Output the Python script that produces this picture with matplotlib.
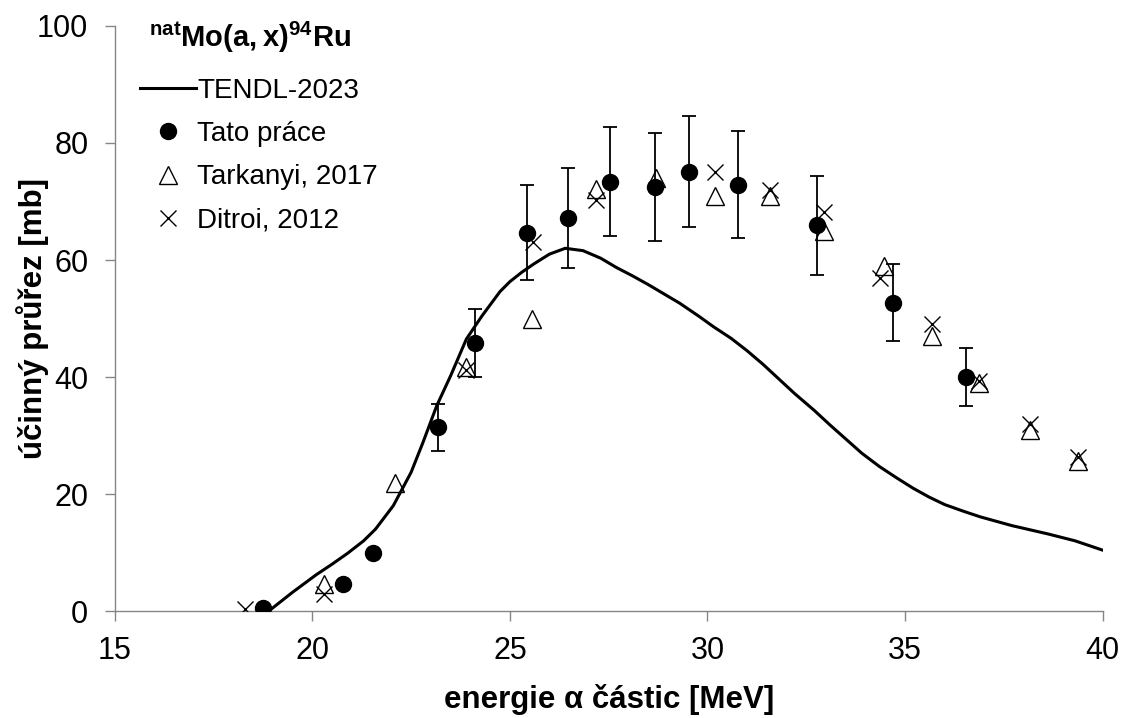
import numpy as np
import matplotlib
matplotlib.use("Agg")
import matplotlib.pyplot as plt
from matplotlib.lines import Line2D

plt.rcParams['font.family'] = ['Liberation Sans', 'DejaVu Sans']
plt.rcParams['mathtext.fontset'] = 'custom'
plt.rcParams['mathtext.rm'] = 'Liberation Sans'
plt.rcParams['mathtext.bf'] = 'Liberation Sans:bold'

# TENDL-2023 curve
tendl_e = [18.9, 19.5, 20.1, 20.5, 20.9, 21.3, 21.6, 22.05, 22.5, 22.8, 23.15,
           23.5, 23.9, 24.3, 24.75, 25.0, 25.3, 25.6, 26.0, 26.4, 26.85, 27.3,
           27.7, 28.1, 28.5, 29.3, 29.8, 30.15, 30.6, 31.0, 31.4, 31.8, 32.2,
           32.7, 33.1, 33.5, 33.9, 34.35, 34.8, 35.2, 35.6, 36.0, 36.5, 36.9,
           37.7, 38.6, 39.3, 40.0]
tendl_xs = [0.0, 3.2, 6.2, 8.0, 9.9, 12.0, 14.0, 18.0, 23.7, 28.8, 35.1,
            40.2, 46.5, 50.5, 54.6, 56.3, 57.9, 59.3, 61.0, 62.0, 61.6, 60.3,
            58.7, 57.3, 55.8, 52.6, 50.3, 48.6, 46.6, 44.5, 42.2, 39.7, 37.2,
            34.3, 31.8, 29.4, 27.0, 24.7, 22.7, 21.0, 19.5, 18.2, 17.0, 16.1,
            14.6, 13.2, 12.0, 10.4]

# this work
tp_e = [18.76, 20.78, 21.54, 23.19, 24.11, 25.43, 26.46, 27.54, 28.68, 29.53,
        30.78, 32.78, 34.69, 36.55]
tp_xs = [0.46, 4.7, 10.0, 31.4, 45.8, 64.7, 67.2, 73.4, 72.5, 75.1, 72.9,
         65.9, 52.7, 40.0]
tp_err = [0.0, 0.0, 0.0, 4.0, 5.8, 8.1, 8.5, 9.3, 9.2, 9.5, 9.2, 8.4, 6.6, 5.0]

# Tarkanyi, 2017
tar_e = [20.29, 22.09, 23.89, 25.57, 27.19, 28.69, 30.18, 31.57, 32.96, 34.46,
         35.67, 36.88, 38.17, 39.37]
tar_xs = [4.6, 21.9, 41.7, 50.0, 72.1, 74.0, 71.0, 71.0, 65.0, 58.9, 47.0,
          38.9, 30.9, 25.7]

# Ditroi, 2012
dit_e = [18.30, 20.29, 23.89, 25.59, 27.19, 30.18, 31.57, 32.96, 34.37, 35.67,
         36.88, 38.17, 39.37]
dit_xs = [0.34, 2.9, 41.2, 63.1, 70.2, 75.1, 71.9, 68.2, 57.0, 49.1, 39.4,
          32.0, 26.3]

fig = plt.figure(figsize=(11.22, 7.18), dpi=100)
ax = fig.add_axes([0.1022, 0.149, 0.9828 - 0.1022, 0.9638 - 0.149])

ax.plot(tendl_e, tendl_xs, color='black', linewidth=2.2, zorder=2)
ax.plot(tar_e, tar_xs, linestyle='none', marker='^', markersize=13,
        markerfacecolor='none', markeredgecolor='black', markeredgewidth=1.0,
        zorder=3)
ax.plot(dit_e, dit_xs, linestyle='none', marker='x', markersize=11,
        color='black', markeredgewidth=1.0, zorder=3)
ax.errorbar(tp_e, tp_xs, yerr=tp_err, fmt='none', ecolor='black',
            elinewidth=1.3, capsize=4.7, capthick=1.3, zorder=4)
ax.plot(tp_e, tp_xs, linestyle='none', marker='o', markersize=11.5,
        color='black', zorder=5)

ax.set_xlim(15, 40)
ax.set_ylim(0, 100)
ax.set_xticks([15, 20, 25, 30, 35, 40])
ax.set_yticks([0, 20, 40, 60, 80, 100])
for s in ['top', 'right']:
    ax.spines[s].set_visible(False)
for s in ['left', 'bottom']:
    ax.spines[s].set_color('#868686')
    ax.spines[s].set_linewidth(1.0)
ax.tick_params(direction='out', length=7, width=1.0, color='#868686',
               labelsize=22)
ax.tick_params(axis='x', pad=11)
ax.tick_params(axis='y', pad=12)

ax.set_xlabel('energie α částic [MeV]', fontsize=22.5, fontweight='bold')
ax.set_ylabel('účinný průřez [mb]', fontsize=22.5, fontweight='bold')
ax.xaxis.set_label_coords(0.5, -0.152)
ax.xaxis.label.set_va('center')
ax.yaxis.set_label_coords(-0.083, 0.5)
ax.yaxis.label.set_va('center')

fig.text(149 / 1122, 1 - 37 / 718, r'$\mathbf{^{nat}Mo(a,x)^{94}Ru}$',
         fontsize=21, ha='left', va='center')

handles = [
    Line2D([], [], color='black', linewidth=2.2),
    Line2D([], [], linestyle='none', marker='o', markersize=11.5, color='black'),
    Line2D([], [], linestyle='none', marker='^', markersize=13,
           markerfacecolor='none', markeredgecolor='black', markeredgewidth=1.0),
    Line2D([], [], linestyle='none', marker='x', markersize=11, color='black',
           markeredgewidth=1.0),
]
labels = ['TENDL-2023', 'Tato práce', 'Tarkanyi, 2017', 'Ditroi, 2012']
fig.legend(handles, labels, loc='upper left',
           bbox_to_anchor=(140 / 1122, 1 - 78 / 718), frameon=False,
           fontsize=20, handlelength=2.0, handletextpad=0.05,
           labelspacing=0.62, borderpad=0, borderaxespad=0)

fig.savefig('out.png', dpi=100)
